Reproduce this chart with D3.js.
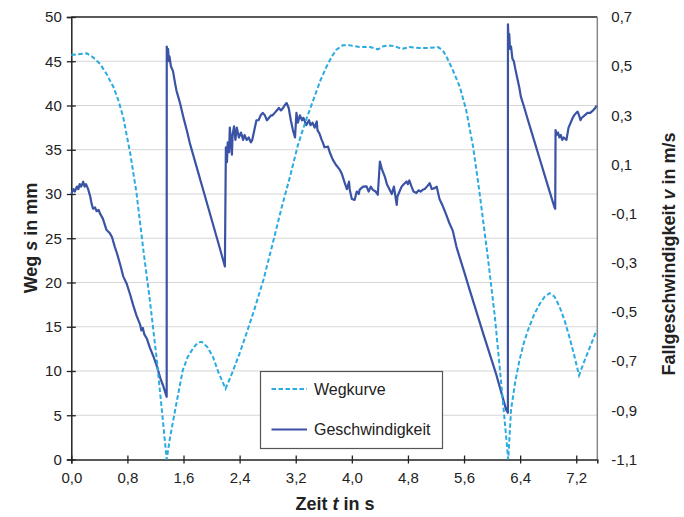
<!DOCTYPE html>
<html><head><meta charset="utf-8">
<script src="https://cdn.jsdelivr.net/npm/d3@7"></script>
<style>body{margin:0;background:#fff}svg{display:block}text{font-family:"Liberation Sans",Arial,Helvetica,sans-serif}</style>
</head><body>
<svg id="c" width="684" height="517"></svg>
<script>
// ---- data ----
const xTicks = [0, 0.8, 1.6, 2.4, 3.2, 4.0, 4.8, 5.6, 6.4, 7.2];
const leftTicks = [0, 5, 10, 15, 20, 25, 30, 35, 40, 45, 50];
const rightTicks = [-1.1, -0.9, -0.7, -0.5, -0.3, -0.1, 0.1, 0.3, 0.5, 0.7];
const seriesNames = ["Wegkurve", "Geschwindigkeit"];

const wegTime = [0.00,0.10,0.22,0.30,0.41,0.50,0.60,0.67,0.74,0.84,0.93,1.03,1.12,1.22,1.31,1.36,
  1.41,1.50,1.59,1.66,1.74,1.80,1.86,1.94,2.02,2.10,2.20,2.30,2.40,2.50,2.60,2.74,2.90,3.00,3.12,3.23,
  3.34,3.45,3.55,3.64,3.72,3.78,3.87,3.97,4.11,4.26,4.37,4.45,4.52,4.61,4.71,4.82,4.97,5.09,5.23,5.30,
  5.35,5.44,5.54,5.63,5.73,5.82,5.94,6.04,6.13,6.20,6.23,6.27,6.33,6.39,6.45,6.51,6.60,6.68,6.75,6.82,
  6.89,6.96,7.03,7.10,7.17,7.24,7.30,7.36,7.43,7.49];
const wegValues = [45.7,45.8,45.9,45.5,44.7,43.6,42.1,40.6,38.7,34.6,30.1,23.5,18.0,11.2,4.1,0.0,
  2.6,6.4,10.1,11.6,12.6,13.2,13.3,12.7,11.6,9.8,8.0,9.9,12.0,14.3,16.7,20.3,25.3,28.5,32.0,35.5,
  38.2,40.6,42.8,44.4,45.6,46.3,46.8,46.8,46.6,46.6,46.35,46.7,46.8,46.7,46.4,46.6,46.5,46.5,46.6,46.2,
  45.5,44.0,42.1,39.5,35.3,30.2,22.8,16.1,8.6,2.6,0.0,5.6,8.8,11.2,13.1,14.6,16.4,17.6,18.4,18.8,
  18.4,17.3,15.8,13.9,11.8,9.5,10.8,12.0,13.4,14.6];

const velTime = [0.00,0.03,0.05,0.08,0.10,0.12,0.14,0.17,0.19,0.21,0.24,0.27,0.29,0.31,0.34,0.36,0.39,0.41,
  0.45,0.50,0.55,0.58,0.62,0.65,0.70,0.74,0.79,0.84,0.88,0.93,0.98,1.00,1.02,1.04,1.08,1.12,1.17,1.22,1.27,
  1.31,1.36,
  1.361,1.37,1.38,1.39,1.40,1.42,1.45,1.48,1.50,1.52,1.55,1.60,1.65,1.69,1.75,1.80,1.85,1.88,1.95,2.00,2.07,
  2.12,2.19,
  2.204,2.22,2.23,2.25,2.26,2.275,2.29,2.30,2.32,2.34,2.36,2.39,2.42,2.45,2.47,2.50,2.53,2.56,2.58,2.61,
  2.64,2.67,2.70,2.73,2.76,2.79,2.82,2.85,2.87,2.90,2.93,2.96,2.99,3.02,3.04,3.07,3.10,3.13,3.16,3.19,
  3.21,3.23,3.26,3.29,3.31,3.35,3.39,3.41,3.44,3.47,3.50,3.51,3.54,3.57,3.59,3.61,3.66,3.685,3.73,3.77,
  3.83,3.86,3.90,3.93,3.96,3.97,4.00,4.04,4.07,4.10,4.11,4.16,4.21,4.24,4.27,4.30,4.34,4.37,4.40,4.43,
  4.47,4.50,4.54,4.57,4.60,4.64,4.65,4.68,4.71,4.74,4.78,4.80,4.82,4.85,4.88,4.92,4.95,4.98,5.01,5.04,
  5.07,5.11,5.14,5.18,5.21,5.23,5.25,5.30,5.34,5.39,5.44,5.49,5.54,5.60,5.68,5.87,6.06,6.20,6.225,
  6.226,6.235,6.245,6.255,6.27,6.29,6.31,6.33,6.36,6.39,6.41,6.45,6.50,6.55,6.60,6.65,6.70,6.75,6.80,
  6.85,6.89,6.90,
  6.905,6.92,6.94,6.96,6.98,7.00,7.02,7.06,7.09,7.12,7.15,7.17,7.20,7.22,7.24,7.26,7.28,7.32,7.36,7.40,
  7.44,7.47,7.49];
const velValues = [-0.02,0.00,-0.01,0.01,0.00,0.02,0.01,0.03,0.01,0.02,0.00,-0.03,-0.06,-0.08,-0.075,-0.09,-0.085,-0.10,
  -0.12,-0.165,-0.18,-0.195,-0.235,-0.26,-0.31,-0.355,-0.385,-0.43,-0.47,-0.515,-0.55,-0.575,-0.565,-0.59,-0.61,-0.645,-0.68,-0.72,-0.77,
  -0.80,-0.845,
  0.58,0.56,0.57,0.52,0.54,0.50,0.48,0.43,0.40,0.38,0.35,0.29,0.235,0.187,0.127,0.077,0.027,-0.003,-0.073,-0.123,-0.193,
  -0.243,-0.315,
  0.17,0.11,0.19,0.15,0.25,0.20,0.14,0.22,0.255,0.20,0.25,0.21,0.23,0.20,0.22,0.20,0.21,0.19,0.20,0.24,
  0.28,0.28,0.30,0.31,0.30,0.28,0.29,0.30,0.30,0.31,0.32,0.33,0.32,0.33,0.34,0.35,0.33,0.28,0.24,0.21,
  0.31,0.27,0.30,0.28,0.29,0.26,0.28,0.26,0.27,0.25,0.275,0.24,0.225,0.20,0.187,0.17,0.173,0.15,0.119,0.10,
  0.078,0.06,0.024,0.00,0.03,-0.003,-0.04,-0.044,-0.01,-0.02,-0.003,0.01,0.011,-0.01,0.01,-0.003,-0.01,-0.023,0.112,0.08,
  0.051,0.02,-0.003,-0.02,0.01,-0.064,-0.03,-0.01,0.01,0.02,0.031,0.02,0.035,0.011,-0.01,-0.016,-0.005,-0.01,-0.003,0.00,
  0.01,0.024,0.00,0.004,0.01,-0.016,-0.04,-0.071,-0.10,-0.138,-0.17,-0.233,-0.28,-0.335,-0.41,-0.585,-0.755,-0.897,-0.91,
  0.67,0.60,0.63,0.57,0.58,0.53,0.52,0.49,0.45,0.41,0.376,0.34,0.291,0.244,0.197,0.15,0.103,0.056,0.009,
  -0.038,-0.075,-0.08,
  0.24,0.22,0.23,0.21,0.22,0.20,0.21,0.20,0.25,0.27,0.29,0.30,0.31,0.315,0.30,0.28,0.29,0.30,0.31,0.31,
  0.32,0.33,0.34];

// ---- chart ----
const svg = d3.select("#c");
const L = 71.3, R = 597.3, T = 17, B = 459.5;
const x = d3.scaleLinear().domain([0, 7.5]).range([L, R]);
const yL = d3.scaleLinear().domain([0, 50]).range([B, T]);
const yR = d3.scaleLinear().domain([-1.1, 0.7]).range([B, T]);
const fmt = d => d3.format(".1f")(d).replace(".", ",").replace("−", "-");

// gridlines
svg.append("g").selectAll("line").data(leftTicks.filter(d => d > 0 && d < 50)).join("line")
  .attr("x1", L).attr("x2", R).attr("y1", d => yL(d)).attr("y2", d => yL(d))
  .attr("stroke", "#d6d6d6").attr("stroke-width", 1.2);

// frame top and right
svg.append("line").attr("x1", L).attr("x2", R).attr("y1", T).attr("y2", T).attr("stroke", "#222").attr("stroke-width", 1.3);
svg.append("line").attr("x1", R).attr("x2", R).attr("y1", T).attr("y2", B).attr("stroke", "#888").attr("stroke-width", 1.5);

// left axis
const gL = svg.append("g").attr("transform", `translate(${L},0)`)
  .call(d3.axisLeft(yL).tickValues(leftTicks).tickSize(4.5).tickPadding(5).tickFormat(d => d));
gL.selectAll(".tick line").attr("x2", 4.5).attr("x1", -4.5);
// bottom axis
const gB = svg.append("g").attr("transform", `translate(0,${B})`)
  .call(d3.axisBottom(x).tickValues(xTicks).tickSize(4).tickPadding(9).tickFormat(fmt));
gB.selectAll(".tick line").attr("y1", -4).attr("y2", 4);
// right axis (labels only)
const gR = svg.append("g").attr("transform", `translate(${R},0)`)
  .call(d3.axisRight(yR).tickValues(rightTicks).tickSize(0).tickPadding(14).tickFormat(fmt));
gR.select(".domain").remove();

[gL, gB, gR].forEach(g => {
  g.select(".domain").attr("stroke", "#222").attr("stroke-width", 1.5);
  g.selectAll(".tick line").attr("stroke", "#222").attr("stroke-width", 1.3);
  g.selectAll(".tick text").attr("font-size", 15).attr("fill", "#222")
   .style("font-family", '"Liberation Sans",Arial,sans-serif');
});

// lines
const wegData = wegTime.map((t, i) => [t, wegValues[i]]);
const velData = velTime.map((t, i) => [t, velValues[i]]);
svg.append("path").datum(velData)
  .attr("d", d3.line().x(d => x(d[0])).y(d => yR(d[1])))
  .attr("fill", "none").attr("stroke", "#3a53a4").attr("stroke-width", 2.2).attr("stroke-linejoin", "round");
svg.append("path").datum(wegData)
  .attr("d", d3.line().x(d => x(d[0])).y(d => yL(d[1])))
  .attr("fill", "none").attr("stroke", "#29abe2").attr("stroke-width", 2).attr("stroke-dasharray", "4.5,2.5");

// axis titles
const title = (sel, parts) => parts.forEach(p => sel.append("tspan").attr("font-style", p[1] ? "italic" : "normal").text(p[0]));
const tX = svg.append("text").attr("x", 335).attr("y", 510).attr("text-anchor", "middle")
  .attr("font-size", 18).attr("font-weight", "bold").attr("fill", "#222");
title(tX, [["Zeit "], ["t", 1], [" in s"]]);
const tL = svg.append("text").attr("transform", "translate(37,238) rotate(-90)").attr("text-anchor", "middle")
  .attr("font-size", 18).attr("font-weight", "bold").attr("fill", "#222");
title(tL, [["Weg "], ["s", 1], [" in mm"]]);
const tR = svg.append("text").attr("transform", "translate(675,254) rotate(-90)").attr("text-anchor", "middle")
  .attr("font-size", 18).attr("font-weight", "bold").attr("fill", "#222");
title(tR, [["Fallgeschwindigkeit "], ["v", 1], [" in m/s"]]);

// legend
const lg = svg.append("g");
lg.append("rect").attr("x", 260.5).attr("y", 371.5).attr("width", 182).attr("height", 77)
  .attr("fill", "#fff").attr("stroke", "#555").attr("stroke-width", 1.2);
lg.append("line").attr("x1", 271.5).attr("x2", 307).attr("y1", 389).attr("y2", 389)
  .attr("stroke", "#29abe2").attr("stroke-width", 2).attr("stroke-dasharray", "4.5,2.5");
lg.append("line").attr("x1", 271.5).attr("x2", 307).attr("y1", 429.5).attr("y2", 429.5)
  .attr("stroke", "#3a53a4").attr("stroke-width", 2);
lg.append("text").attr("x", 314).attr("y", 394.5).attr("font-size", 16).attr("fill", "#222").text(seriesNames[0]);
lg.append("text").attr("x", 314).attr("y", 435).attr("font-size", 16).attr("fill", "#222").text(seriesNames[1]);
</script>
</body></html>
